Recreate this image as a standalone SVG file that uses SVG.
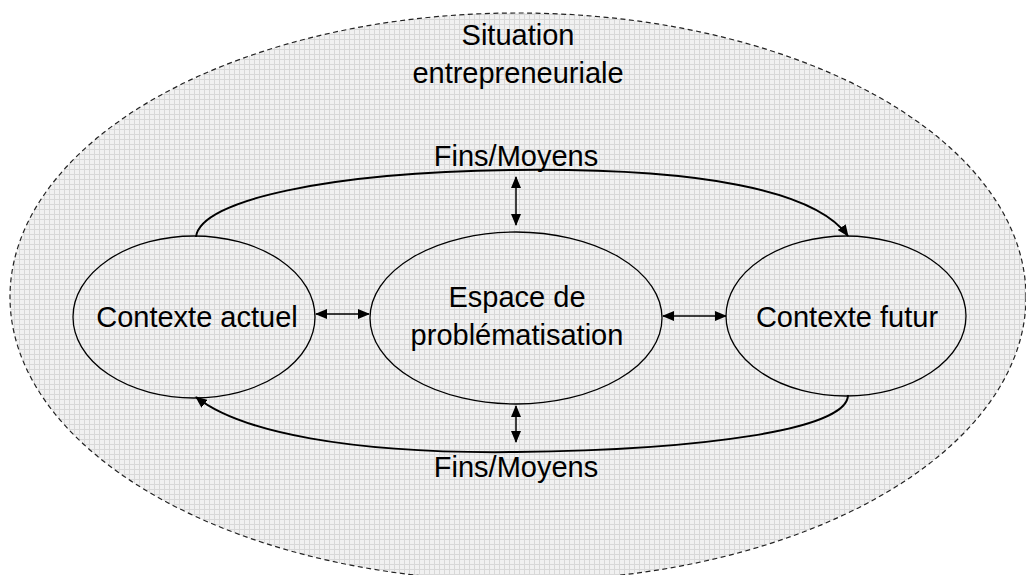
<svg xmlns="http://www.w3.org/2000/svg" width="1026" height="575" viewBox="0 0 1026 575">
  <style>
    .lbl { font-family: "Liberation Sans", Arial, sans-serif; font-size: 29px; fill: #000; text-anchor: middle; }
    .node { fill: none; stroke: #000; stroke-width: 1.3; }
    .conn { fill: none; stroke: #000; stroke-width: 2; }
    .arr { fill: none; stroke: #000; stroke-width: 1.5; }
  </style>
  <defs>
    <pattern id="grid" width="5" height="5" patternUnits="userSpaceOnUse">
      <rect width="5" height="5" fill="#f1f1f1"/>
      <path d="M4.5 0 V5 M0 4.5 H5" stroke="#d8d8d8" stroke-width="1"/>
    </pattern>
    <marker id="ah" markerWidth="12" markerHeight="10" refX="11" refY="5" orient="auto-start-reverse" markerUnits="userSpaceOnUse">
      <path d="M0,0 L12,5 L0,10 Z" fill="#000"/>
    </marker>
  </defs>
  <rect width="1026" height="575" fill="#fff"/>
  <g id="situation">
    <ellipse cx="518" cy="297" rx="508" ry="284" fill="url(#grid)" stroke="#222" stroke-width="1.2" stroke-dasharray="5,3.5"/>
    <text class="lbl" x="518" y="45">Situation</text>
    <text class="lbl" x="518" y="83">entrepreneuriale</text>
  </g>
  <g id="contexte-actuel">
    <ellipse class="node" cx="194" cy="317" rx="121" ry="81"/>
    <text class="lbl" x="197" y="327">Contexte actuel</text>
  </g>
  <g id="espace">
    <ellipse class="node" cx="516" cy="318" rx="146" ry="86"/>
    <text class="lbl" x="517" y="307">Espace de</text>
    <text class="lbl" x="517" y="345">problématisation</text>
  </g>
  <g id="contexte-futur">
    <ellipse class="node" cx="846" cy="316" rx="120" ry="80"/>
    <text class="lbl" x="847" y="327">Contexte futur</text>
  </g>
  <g id="connectors">
    <path class="conn" d="M196,237 C200,200 330,172 516,170 C700,168 815,190 848,236" marker-end="url(#ah)"/>
    <path class="conn" d="M848,395 C848,430 700,450 516,452 C350,454 240,432 196,397" marker-end="url(#ah)"/>
    <line class="arr" x1="316" y1="314" x2="369" y2="314" marker-start="url(#ah)" marker-end="url(#ah)"/>
    <line class="arr" x1="663" y1="316" x2="726" y2="316" marker-start="url(#ah)" marker-end="url(#ah)"/>
    <line class="arr" x1="516" y1="177" x2="516" y2="225" marker-start="url(#ah)" marker-end="url(#ah)"/>
    <line class="arr" x1="516" y1="406" x2="516" y2="442" marker-start="url(#ah)" marker-end="url(#ah)"/>
    <text class="lbl" x="516" y="166">Fins/Moyens</text>
    <text class="lbl" x="516" y="477">Fins/Moyens</text>
  </g>
</svg>
